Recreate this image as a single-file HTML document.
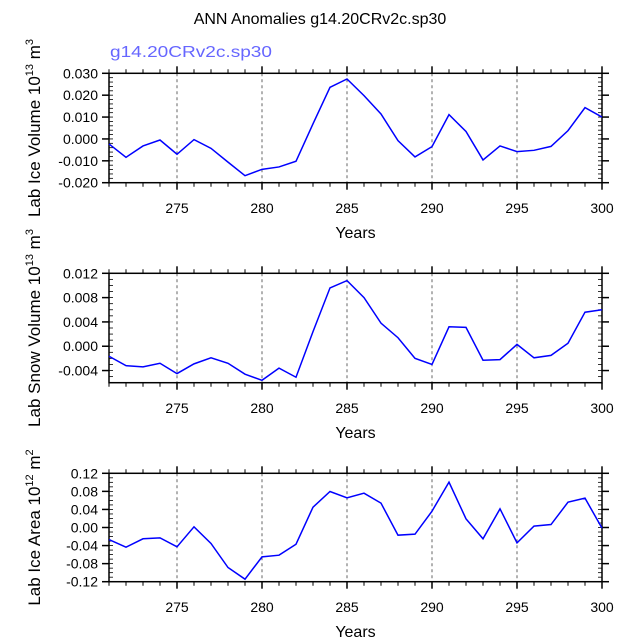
<!DOCTYPE html>
<html><head><meta charset="utf-8"><style>
html,body{margin:0;padding:0;background:#fff;}
svg{display:block;font-family:"Liberation Sans",Arial,sans-serif;}
</style></head><body>
<svg id="chart" width="638" height="638" viewBox="0 0 638 638">
<text x="320" y="24" font-size="16" text-anchor="middle">ANN Anomalies g14.20CRv2c.sp30</text>
<text x="110" y="57" font-size="16" fill="#6666ff" textLength="162" lengthAdjust="spacingAndGlyphs">g14.20CRv2c.sp30</text>
</svg>
<script>
const years = [271,272,273,274,275,276,277,278,279,280,281,282,283,284,285,286,287,288,289,290,291,292,293,294,295,296,297,298,299,300];
const iceVolume = [-0.0023,-0.0084,-0.0032,-0.0005,-0.0070,-0.0003,-0.0043,-0.0106,-0.0168,-0.0139,-0.0128,-0.0102,0.0069,0.0236,0.0274,0.0198,0.0114,-0.0008,-0.0082,-0.0035,0.0111,0.0034,-0.0096,-0.0032,-0.0058,-0.0052,-0.0034,0.0038,0.0143,0.0100];
const snowVolume = [-0.00165,-0.0032,-0.0034,-0.0028,-0.0045,-0.0029,-0.0019,-0.0028,-0.0046,-0.0056,-0.0036,-0.0051,0.0024,0.0096,0.0108,0.0080,0.0038,0.0014,-0.0020,-0.0030,0.0032,0.0031,-0.0023,-0.0022,0.0003,-0.0019,-0.0015,0.0005,0.0056,0.0060];
const iceArea = [-0.0266,-0.0435,-0.025,-0.0229,-0.0428,0.0015,-0.0354,-0.0886,-0.1144,-0.065,-0.0613,-0.037,0.045,0.0797,0.0657,0.076,0.0539,-0.017,-0.0148,0.0362,0.1004,0.0192,-0.025,0.0413,-0.034,0.003,0.0066,0.056,0.065,-0.0015];
const xTicks = [275,280,285,290,295,300];
const yTicks1 = ["0.030","0.020","0.010","0.000","-0.010","-0.020"];
const yTicks2 = ["0.012","0.008","0.004","0.000","-0.004"];
const yTicks3 = ["0.12","0.08","0.04","0.00","-0.04","-0.08","-0.12"];

const NS="http://www.w3.org/2000/svg";
const svg=document.getElementById('chart');
function mk(tag,attrs,parent){const e=document.createElementNS(NS,tag);for(const k in attrs)e.setAttribute(k,attrs[k]);(parent||svg).appendChild(e);return e;}
const X0=109,X1=602,XMIN=271,XMAX=300;
function xs(v){return X0+(v-XMIN)/(XMAX-XMIN)*(X1-X0);}

function panel(name,top,bot,ymin,ymax,minorStep,ticks,data,label,sup,unit,titleY,yearsY){
  const g=mk('g',{});
  
  
  const ys=v=>bot-(v-ymin)/(ymax-ymin)*(bot-top);
  xTicks.forEach(t=>{if(t<XMAX){const l=mk('line',{x1:xs(t),x2:xs(t),y1:top,y2:bot,stroke:'#000','stroke-width':0.6,'stroke-dasharray':'3,3'},g);
    
    }});
  for(let yr=XMIN;yr<=XMAX;yr++){
    const maj=xTicks.includes(yr);const len=maj?7:4;const x=xs(yr);
    mk('line',{x1:x,x2:x,y1:bot,y2:bot+len,stroke:'#000','stroke-width':maj?1.5:1},g);
    mk('line',{x1:x,x2:x,y1:top,y2:top-len,stroke:'#000','stroke-width':maj?1.5:1},g);
  }
  xTicks.forEach(t=>{const tx=mk('text',{x:xs(t),y:yearsY,'font-size':14,'text-anchor':'middle'},g);tx.textContent=t;
    
    });
  const n=Math.round((ymax-ymin)/minorStep);
  for(let i=0;i<=n;i++){const v=ymin+i*minorStep;const y=ys(v);
    mk('line',{x1:X0,x2:X0+4,y1:y,y2:y,stroke:'#000','stroke-width':0.8},g);
    mk('line',{x1:X1,x2:X1-4,y1:y,y2:y,stroke:'#000','stroke-width':0.8},g);}
  ticks.forEach(s=>{const v=parseFloat(s);const y=ys(v);
    mk('line',{x1:X0-7,x2:X0,y1:y,y2:y,stroke:'#000','stroke-width':1.5},g);
    mk('line',{x1:X1,x2:X1+7,y1:y,y2:y,stroke:'#000','stroke-width':1.5},g);
    const tx=mk('text',{x:X0-11,y:y+5,'font-size':14,'text-anchor':'end'},g);tx.textContent=s;
    
    });
  const fr=mk('rect',{x:X0,y:top,width:X1-X0,height:bot-top,fill:'none',stroke:'#000','stroke-width':1.5},g);
  
  
  const pts=years.map((yr,i)=>xs(yr)+','+ys(data[i])).join(' ');
  const pl=mk('polyline',{points:pts,fill:'none',stroke:'#0000ff','stroke-width':1.5},g);
  
  
  const xt=mk('text',{x:(X0+X1)/2,y:titleY,'font-size':16,'text-anchor':'middle'},g);xt.textContent='Years';
  
  
  const cy=(top+bot)/2;
  const yt=mk('text',{x:0,y:0,'font-size':17,'text-anchor':'middle',transform:`translate(40,${cy}) rotate(-90)`},g);
  
  
  yt.appendChild(document.createTextNode(label+' 10'));
  const s1=document.createElementNS(NS,'tspan');s1.setAttribute('font-size','11');s1.setAttribute('dy','-7');s1.textContent=sup;yt.appendChild(s1);
  const s2=document.createElementNS(NS,'tspan');s2.setAttribute('dy','7');s2.textContent=' m';yt.appendChild(s2);
  const s3=document.createElementNS(NS,'tspan');s3.setAttribute('font-size','11');s3.setAttribute('dy','-7');s3.textContent=unit;yt.appendChild(s3);
}
panel('ice-volume',73.3,182.7,-0.020,0.030,0.002,yTicks1,iceVolume,'Lab Ice Volume','13','3',238,213);
panel('snow-volume',273.3,382.7,-0.006,0.012,0.001,yTicks2,snowVolume,'Lab Snow Volume','13','3',438,413);
panel('ice-area',473.3,581.7,-0.12,0.12,0.01,yTicks3,iceArea,'Lab Ice Area','12','2',637,612);
</script>
</body></html>
